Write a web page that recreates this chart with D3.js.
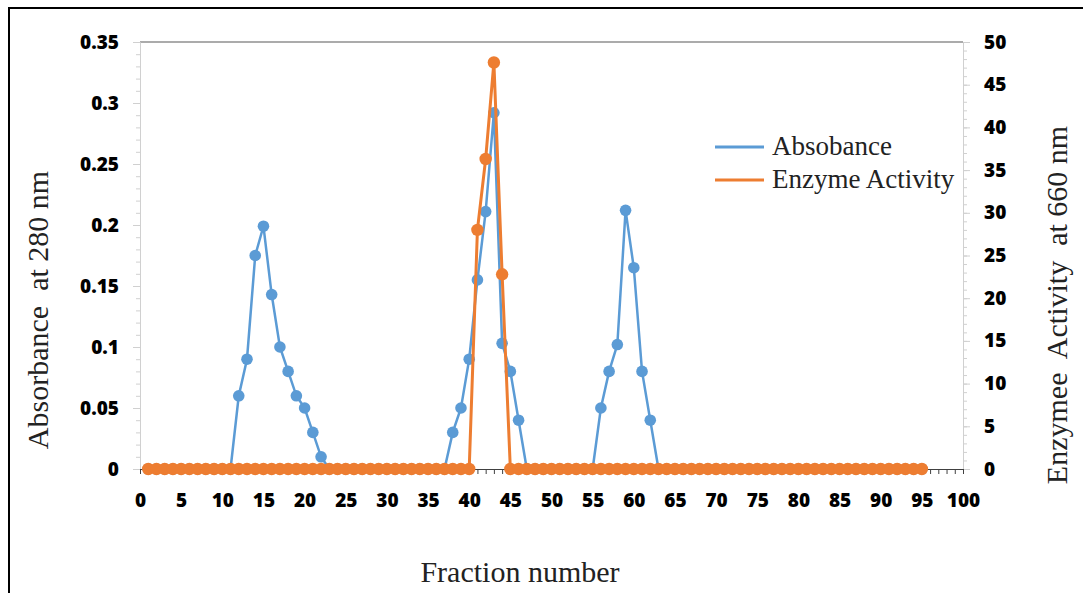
<!DOCTYPE html>
<html><head><meta charset="utf-8">
<script src="https://cdn.jsdelivr.net/npm/d3@7/dist/d3.min.js"></script>
<style>body{margin:0;background:#fff}svg{display:block}</style>
</head><body>
<script>
const fractions = d3.range(1, 96);
// nonzero absorbance values (fraction -> value); all others are 0
const absFractions = [12,13,14,15,16,17,18,19,20,21,22, 38,39,40,41,42,43,44,45,46, 56,57,58,59,60,61,62];
const absValues    = [0.06,0.09,0.175,0.199,0.143,0.1,0.08,0.06,0.05,0.03,0.01, 0.03,0.05,0.09,0.155,0.211,0.292,0.103,0.08,0.04, 0.05,0.08,0.102,0.212,0.165,0.08,0.04];
const enzFractions = [41,42,43,44];
const enzValues    = [28.0,36.3,47.6,22.8];
const seriesNames = ["Absobance","Enzyme Activity"];
const xTicks = d3.range(0, 101, 5);
const yLeftTicks = [0,0.05,0.1,0.15,0.2,0.25,0.3,0.35];
const yRightTicks = d3.range(0, 51, 5);

const absorbance = fractions.map(f => { const i = absFractions.indexOf(f); return {x:f, y: i<0?0:absValues[i]}; });
const enzyme = fractions.map(f => { const i = enzFractions.indexOf(f); return {x:f, y: i<0?0:enzValues[i]}; });

const W=1083,H=593;
const svg=d3.select("body").append("svg").attr("width",W).attr("height",H);
// frame
svg.append("rect").attr("x",9).attr("y",8).attr("width",1100).attr("height",620).attr("fill","none").attr("stroke","#000").attr("stroke-width",2);

const x=d3.scaleLinear().domain([0,100]).range([140,963]);
const yL=d3.scaleLinear().domain([0,0.35]).range([469,42]);
const yR=d3.scaleLinear().domain([0,50]).range([469,42]);

const tickFont="'Open Sans', 'Liberation Sans', Arial, sans-serif";
const serif="'Liberation Serif','Times New Roman',serif";
const styleTicks = sel => sel.attr("font-family",tickFont).attr("font-weight",800).attr("font-size",19).attr("fill","#000");

// top line
svg.append("line").attr("x1",x(0)).attr("x2",x(100)).attr("y1",yL(0.35)).attr("y2",yL(0.35)).attr("stroke","#595959").attr("stroke-width",1.2);

// left axis
const gL=svg.append("g").attr("transform",`translate(${x(0)},0)`);
gL.call(d3.axisLeft(yL).tickValues(d3.range(0,36).map(d=>d/100)).tickSize(4).tickFormat(""));
gL.selectAll(".tick line").attr("stroke","#d0d0d0");
gL.select(".domain").attr("stroke","#d0d0d0");
const gL2=svg.append("g").attr("transform",`translate(${x(0)},0)`);
gL2.call(d3.axisLeft(yL).tickValues(yLeftTicks).tickSize(7).tickPadding(14).tickFormat(d=>d===0?"0":String(+d.toFixed(2))));
gL2.select(".domain").remove();
gL2.selectAll(".tick line").attr("stroke","#d0d0d0");
styleTicks(gL2.selectAll("text"));

// right axis
const gR=svg.append("g").attr("transform",`translate(${x(100)},0)`);
gR.call(d3.axisRight(yR).tickValues(d3.range(0,51)).tickSize(4).tickFormat(""));
gR.selectAll(".tick line").attr("stroke","#d0d0d0");
gR.select(".domain").attr("stroke","#d0d0d0");
const gR2=svg.append("g").attr("transform",`translate(${x(100)},0)`);
gR2.call(d3.axisRight(yR).tickValues(yRightTicks).tickSize(7).tickPadding(14));
gR2.select(".domain").remove();
gR2.selectAll(".tick line").attr("stroke","#d0d0d0");
styleTicks(gR2.selectAll("text"));

// x axis
const gX=svg.append("g").attr("transform",`translate(0,${yL(0)})`);
gX.call(d3.axisBottom(x).tickValues(d3.range(0,101)).tickSize(5).tickSizeOuter(0).tickPadding(20).tickFormat(d=>xTicks.includes(d)?d:""));
gX.select(".domain").attr("stroke","#404040").attr("stroke-width",1.2);
gX.selectAll(".tick line").attr("stroke","#404040");
styleTicks(gX.selectAll("text"));

const blue="#5B9BD5", orange="#ED7D31";
const lineL=d3.line().x(d=>x(d.x)).y(d=>yL(d.y));
const lineR=d3.line().x(d=>x(d.x)).y(d=>yR(d.y));
svg.append("path").datum(absorbance).attr("d",lineL).attr("fill","none").attr("stroke",blue).attr("stroke-width",2.5);
svg.append("g").selectAll("circle").data(absorbance).join("circle").attr("cx",d=>x(d.x)).attr("cy",d=>yL(d.y)).attr("r",5.8).attr("fill",blue);
svg.append("path").datum(enzyme).attr("d",lineR).attr("fill","none").attr("stroke",orange).attr("stroke-width",3);
svg.append("g").selectAll("circle").data(enzyme).join("circle").attr("cx",d=>x(d.x)).attr("cy",d=>yR(d.y)).attr("r",6.2).attr("fill",orange);

// legend
const leg=[{n:seriesNames[0],c:blue,y:147},{n:seriesNames[1],c:orange,y:180}];
leg.forEach(l=>{
  svg.append("line").attr("x1",715).attr("x2",764).attr("y1",l.y).attr("y2",l.y).attr("stroke",l.c).attr("stroke-width",3);
  svg.append("text").attr("x",772).attr("y",l.y+8).text(l.n).attr("font-family",serif).attr("font-size",27).attr("fill","#222");
});

// titles
svg.append("text").attr("x",520).attr("y",582).attr("text-anchor","middle").text("Fraction number").attr("font-family",serif).attr("font-size",30).attr("fill","#222");
svg.append("text").attr("transform","translate(48,310) rotate(-90)").attr("text-anchor","middle").text("Absorbance  at 280 nm").attr("font-family",serif).attr("font-size",30).attr("fill","#222").style("white-space","pre");
svg.append("text").attr("transform","translate(1067,305) rotate(-90)").attr("text-anchor","middle").text("Enzymee  Activity  at 660 nm").attr("font-family",serif).attr("font-size",30).attr("fill","#222").style("white-space","pre");
</script>
</body></html>
